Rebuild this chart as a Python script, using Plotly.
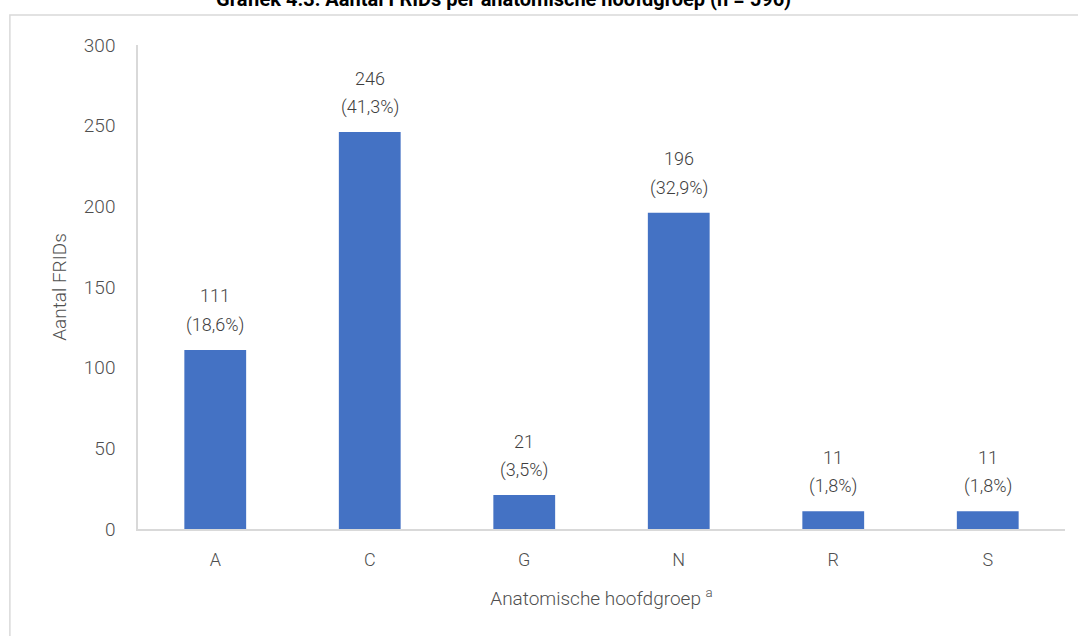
import plotly.graph_objects as go

# Anatomical main groups and FRID counts
groups = ["A", "C", "G", "N", "R", "S"]
counts = [111, 246, 21, 196, 11, 11]
percent_labels = ["18,6%", "41,3%", "3,5%", "32,9%", "1,8%", "1,8%"]
y_ticks = [0, 50, 100, 150, 200, 250, 300]

FONT = "Roboto, sans-serif"
GREY = "#4f4f4f"
LABEL = "#3f3f3f"

fig = go.Figure(
    go.Bar(
        x=groups,
        y=counts,
        marker=dict(color="#4472C4", line=dict(width=0)),
        hoverinfo="skip",
    )
)

# Two-line value labels above each bar: count, then share in parentheses
annotations = []
for g, c, p in zip(groups, counts, percent_labels):
    annotations.append(dict(
        x=g, y=c, xref="x", yref="y", text=str(c), showarrow=False,
        yanchor="middle", yshift=54,
        font=dict(family=FONT, size=18, color=LABEL, weight=300),
    ))
    annotations.append(dict(
        x=g, y=c, xref="x", yref="y", text=f"({p})", showarrow=False,
        yanchor="middle", yshift=25,
        font=dict(family=FONT, size=18, color=LABEL, weight=300),
    ))

annotations.append(dict(
    text="<b>Grafiek 4.3: Aantal FRIDs per anatomische hoofdgroep (n = 596)</b>",
    xref="paper", yref="paper", x=0.394, y=1.066,
    xanchor="center", yanchor="bottom", showarrow=False,
    font=dict(family=FONT, size=20, color="#000000"),
))

fig.update_layout(
    width=1078,
    height=636,
    margin=dict(l=138, r=13, t=45, b=107),
    paper_bgcolor="white",
    plot_bgcolor="white",
    bargap=0.6,
    showlegend=False,
    font=dict(family=FONT, color=GREY, size=18, weight=300),
    xaxis=dict(
        showline=True,
        linecolor="#d9d9d9",
        linewidth=1.5,
        ticks="",
        showgrid=False,
        ticklabelstandoff=14,
        tickfont=dict(family=FONT, size=18, color=GREY, weight=300),
        title=dict(
            text="Anatomische hoofdgroep <sup>a</sup>",
            font=dict(family=FONT, size=19, color=GREY, weight=300),
            standoff=22,
        ),
    ),
    yaxis=dict(
        range=[0, 300],
        tickvals=y_ticks,
        showline=True,
        linecolor="#d9d9d9",
        linewidth=1.5,
        ticks="",
        showgrid=False,
        zeroline=False,
        tickfont=dict(family=FONT, size=19, color=GREY, weight=300),
        ticklabelstandoff=17,
        title=dict(text="Aantal FRIDs",
                   font=dict(family=FONT, size=19, color=GREY, weight=300),
                   standoff=12),
    ),
    shapes=[
        dict(
            type="rect",
            xref="paper",
            yref="paper",
            x0=-0.1382,
            x1=1.2,
            y0=-0.5,
            y1=1.062,
            line=dict(color="#d9d9d9", width=1.5),
            fillcolor="rgba(0,0,0,0)",
            layer="below",
        )
    ],
    annotations=annotations,
)

fig.write_html("out.html")
